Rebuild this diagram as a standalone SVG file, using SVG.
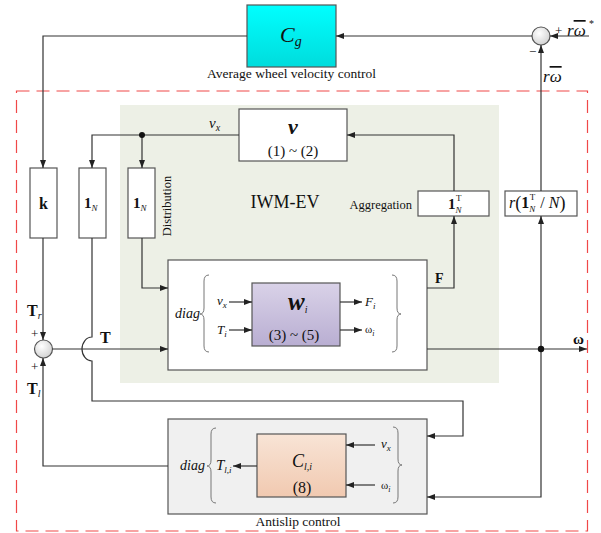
<svg xmlns="http://www.w3.org/2000/svg" width="601" height="533" viewBox="0 0 601 533">
<style>
text{font-family:"Liberation Serif","Times New Roman",serif;fill:#111}
.i{font-style:italic}
.b{font-weight:bold}
.ov{text-decoration:overline}
.bx{fill:#fff;stroke:#555;stroke-width:1.2}
.ln{fill:none;stroke:#333;stroke-width:1.2}
.br{fill:none;stroke:#777;stroke-width:1}
.lbl{font-size:13.5px}
</style>
<defs>
<marker id="a" viewBox="0 0 8 6" refX="8" refY="3" markerWidth="8" markerHeight="6" markerUnits="userSpaceOnUse" orient="auto"><path d="M0,0 L8,3 L0,6 z" fill="#222"/></marker>
<linearGradient id="cy" x1="0" y1="0" x2="0" y2="1"><stop offset="0" stop-color="#00ffff"/><stop offset="1" stop-color="#00dcdc"/></linearGradient>
<linearGradient id="pu" x1="0" y1="0" x2="0" y2="1"><stop offset="0" stop-color="#d9d2e8"/><stop offset="1" stop-color="#b9aed2"/></linearGradient>
<linearGradient id="pe" x1="0" y1="0" x2="0" y2="1"><stop offset="0" stop-color="#f8e4d6"/><stop offset="1" stop-color="#f1c9b0"/></linearGradient>
<radialGradient id="sg" cx="0.4" cy="0.35" r="0.7"><stop offset="0" stop-color="#ffffff"/><stop offset="1" stop-color="#d0d0d0"/></radialGradient>
</defs>

<!-- backgrounds -->
<rect x="16.5" y="91" width="571" height="440" fill="none" stroke="#f04848" stroke-width="1.2" stroke-dasharray="13 7"/>
<g id="iwm-ev">
<rect x="120" y="105" width="379" height="278" fill="#edf0e6"/>
<text x="285" y="208" font-size="18" text-anchor="middle">IWM-EV</text>
</g>

<g id="Cg">
<rect x="247" y="5" width="89" height="62" fill="url(#cy)" stroke="#555" stroke-width="1.2"/>
<text x="280" y="42" class="i" font-size="22">C<tspan font-size="14" dy="4">g</tspan></text>
<text x="291.5" y="78" class="lbl" text-anchor="middle">Average wheel velocity control</text>
</g>

<g id="sum-top">
<circle cx="541" cy="36" r="9" fill="url(#sg)" stroke="#555" stroke-width="1.2"/>
<text x="555" y="35" font-size="13">+</text>
<text x="567" y="36" class="i" font-size="17">r<tspan class="ov">ω</tspan></text>
<text x="589" y="27" font-size="10">*</text>
<text x="529" y="56" font-size="13">−</text>
<text x="543" y="82" class="i" font-size="17">r<tspan class="ov">ω</tspan></text>
</g>

<g id="k">
<rect class="bx" x="30" y="168" width="27" height="70"/>
<text x="43.5" y="209" class="b" font-size="16" text-anchor="middle">k</text>
</g>
<g id="oneN-a">
<rect class="bx" x="79" y="168" width="27" height="70"/>
<text x="84" y="208" class="b" font-size="15">1<tspan class="i" font-weight="normal" font-size="9" dy="3">N</tspan></text>
</g>
<g id="oneN-dist">
<rect class="bx" x="128" y="168" width="27" height="70"/>
<text x="133" y="208" class="b" font-size="15">1<tspan class="i" font-weight="normal" font-size="9" dy="3">N</tspan></text>
<text transform="translate(171 206) rotate(-90)" font-size="12.5" text-anchor="middle">Distribution</text>
</g>

<g id="v">
<rect class="bx" x="239" y="109" width="108" height="52"/>
<text x="293" y="134" class="b i" font-size="22" text-anchor="middle">v</text>
<text x="293" y="156" font-size="15" text-anchor="middle">(1) ~ (2)</text>
</g>

<g id="aggregation">
<rect class="bx" x="418" y="191" width="71" height="25"/>
<text x="448" y="209" class="b" font-size="15">1<tspan font-weight="normal" font-size="9" dx="0.5" dy="-8">T</tspan><tspan class="i" font-weight="normal" font-size="9" dx="-6" dy="12">N</tspan></text>
<text x="412" y="209" font-size="12.5" text-anchor="end">Aggregation</text>
</g>

<g id="avg">
<rect class="bx" x="505" y="191" width="72" height="25"/>
<text x="509" y="208" font-size="16"><tspan class="i">r</tspan><tspan font-size="18" dy="1">(</tspan><tspan class="b" dy="-1">1</tspan><tspan font-size="9" dx="0.5" dy="-8">T</tspan><tspan class="i" font-size="9" dx="-6" dy="12">N</tspan><tspan dx="5" dy="-4">/</tspan><tspan class="i" dx="4">N</tspan><tspan font-size="18" dy="1">)</tspan></text>
</g>

<g id="plant">
<rect class="bx" x="168" y="260" width="259" height="110"/>
<text x="175" y="318" class="i" font-size="14">diag</text>
<path class="br" d="M209 275 Q204 275 204 281 L204 308 Q204 314 200 314 Q204 314 204 320 L204 346 Q204 352 209 352"/>
<path class="br" d="M392 275 Q397 275 397 281 L397 308 Q397 314 401 314 Q397 314 397 320 L397 346 Q397 352 392 352"/>
<text x="217" y="305" class="i" font-size="13">v<tspan font-size="9" dy="3">x</tspan></text>
<text x="217" y="334" class="i" font-size="13">T<tspan font-size="9" dy="3">i</tspan></text>
<text x="365" y="306" class="i" font-size="13">F<tspan font-size="9" dy="3">i</tspan></text>
<text x="365" y="333" font-size="11">ω<tspan class="i" font-size="8" dy="3">i</tspan></text>
<g id="wi">
<rect x="252" y="283" width="88" height="63" fill="url(#pu)" stroke="#555" stroke-width="1.2"/>
<text x="288" y="310" class="b i" font-size="25">w<tspan font-size="10" font-weight="normal" dy="3">i</tspan></text>
<text x="294" y="340" font-size="15" text-anchor="middle">(3) ~ (5)</text>
</g>
<line class="ln" x1="229" y1="302" x2="252" y2="302" marker-end="url(#a)"/>
<line class="ln" x1="229" y1="330" x2="252" y2="330" marker-end="url(#a)"/>
<line class="ln" x1="340" y1="302" x2="362" y2="302" marker-end="url(#a)"/>
<line class="ln" x1="340" y1="330" x2="362" y2="330" marker-end="url(#a)"/>
</g>

<g id="sum-bottom">
<circle cx="43.5" cy="349" r="9" fill="url(#sg)" stroke="#555" stroke-width="1.2"/>
<text x="27" y="316" class="b" font-size="16">T<tspan class="i" font-weight="normal" font-size="10" dy="3">r</tspan></text>
<text x="31" y="338" font-size="13">+</text>
<text x="31" y="371" font-size="13">+</text>
<text x="27" y="394" class="b" font-size="16">T<tspan class="i" font-weight="normal" font-size="10" dy="3">l</tspan></text>
</g>

<g id="antislip">
<rect x="168" y="419" width="259" height="95" fill="#f0f0f0" stroke="#555" stroke-width="1.2"/>
<text x="180" y="470" class="i" font-size="14">diag</text>
<path class="br" d="M216 428 Q211 428 211 434 L211 460 Q211 466 207 466 Q211 466 211 472 L211 497 Q211 503 216 503"/>
<path class="br" d="M393 427 Q398 427 398 433 L398 459 Q398 465 402 465 Q398 465 398 471 L398 497 Q398 503 393 503"/>
<text x="216" y="470" class="i" font-size="15">T<tspan font-size="9" dy="3">l,i</tspan></text>
<g id="Cli">
<rect x="257" y="434" width="89" height="63" fill="url(#pe)" stroke="#555" stroke-width="1.2"/>
<text x="292" y="467" class="i" font-size="18">C<tspan font-size="10" dy="3">l,i</tspan></text>
<text x="302" y="493" font-size="16" text-anchor="middle">(8)</text>
</g>
<text x="381" y="448" class="i" font-size="13">v<tspan font-size="9" dy="3">x</tspan></text>
<text x="381" y="489" font-size="11">ω<tspan class="i" font-size="8" dy="3">i</tspan></text>
<line class="ln" x1="257" y1="466" x2="233" y2="466" marker-end="url(#a)"/>
<line class="ln" x1="375" y1="445" x2="346" y2="445" marker-end="url(#a)"/>
<line class="ln" x1="375" y1="485" x2="346" y2="485" marker-end="url(#a)"/>
<text x="298" y="526" class="lbl" text-anchor="middle">Antislip control</text>
</g>

<g id="connectors">
<path class="ln" d="M247 36 H43 V168" marker-end="url(#a)"/>
<path class="ln" d="M532 36 H336" marker-end="url(#a)"/>
<path class="ln" d="M589 36 H550" marker-end="url(#a)"/>
<path class="ln" d="M541 191 V45" marker-end="url(#a)"/>
<path class="ln" d="M43 238 V340" marker-end="url(#a)"/>
<path class="ln" d="M168 466 H43 V358" marker-end="url(#a)"/>
<path class="ln" d="M52.5 349 H168" marker-end="url(#a)"/>
<path class="ln" d="M239 135 H92 V168" marker-end="url(#a)"/>
<path class="ln" d="M142 135 V168" marker-end="url(#a)"/>
<path class="ln" d="M142 238 V288 H168" marker-end="url(#a)"/>
<path class="ln" d="M92 238 V337 A10 12 0 0 0 92 361 V401 H463 V436 H427" marker-end="url(#a)"/>
<path class="ln" d="M427 288 H454 V216" marker-end="url(#a)"/>
<path class="ln" d="M454 191 V135 H347" marker-end="url(#a)"/>
<path class="ln" d="M427 349 H587" marker-end="url(#a)"/>
<path class="ln" d="M541 349 V497 H427" marker-end="url(#a)"/>
<path class="ln" d="M541 349 V216" marker-end="url(#a)"/>
<circle cx="142" cy="135" r="3" fill="#111"/>
<circle cx="541" cy="349" r="3.2" fill="#111"/>
<text x="209" y="128" class="i" font-size="15">v<tspan font-size="10" dy="3">x</tspan></text>
<text x="100" y="343" class="b" font-size="16">T</text>
<text x="435" y="283" class="b" font-size="14">F</text>
<text x="573" y="344" class="b" font-size="15">ω</text>
</g>
</svg>
